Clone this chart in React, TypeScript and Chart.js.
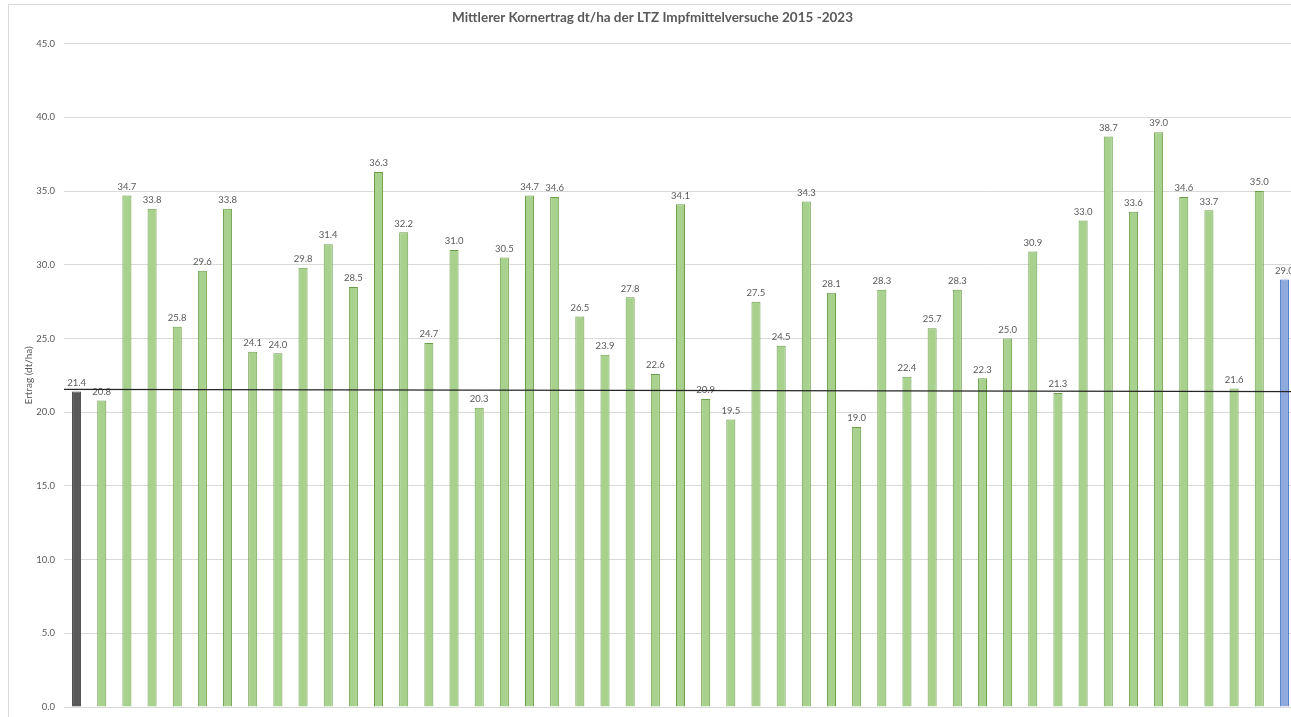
import React, { useEffect, useRef } from "react";
import { Chart, registerables } from "chart.js";

Chart.register(...registerables);

const titleText = "Mittlerer Kornertrag dt/ha der LTZ Impfmittelversuche 2015 -2023";
const yAxisTitle = "Ertrag (dt/ha)";

// Mean grain yield per variant (dt/ha); first = untreated control, last = overall mean
const categories: string[] = [
  "Kontrolle",
  "V1", "V2", "V3", "V4", "V5", "V6", "V7", "V8", "V9", "V10",
  "V11", "V12", "V13", "V14", "V15", "V16", "V17", "V18", "V19", "V20",
  "V21", "V22", "V23", "V24", "V25", "V26", "V27", "V28", "V29", "V30",
  "V31", "V32", "V33", "V34", "V35", "V36", "V37", "V38", "V39", "V40",
  "V41", "V42", "V43", "V44", "V45", "V46", "V47",
  "Mittel",
];

const yields: number[] = [
  21.4,
  20.8, 34.7, 33.8, 25.8, 29.6, 33.8, 24.1, 24.0, 29.8, 31.4,
  28.5, 36.3, 32.2, 24.7, 31.0, 20.3, 30.5, 34.7, 34.6, 26.5,
  23.9, 27.8, 22.6, 34.1, 20.9, 19.5, 27.5, 24.5, 34.3, 28.1,
  19.0, 28.3, 22.4, 25.7, 28.3, 22.3, 25.0, 30.9, 21.3, 33.0,
  38.7, 33.6, 39.0, 34.6, 33.7, 21.6, 35.0,
  29.0,
];

// Reference line at control level (drawn slightly sloped, left → right)
const referenceLine: number[] = [21.55, 21.4];

const yTicks = { min: 0, max: 45, step: 5 };

const greenFill = "#a9d18e";
const greenBorder = "#6b9f47";
const controlFill = "#595959";
const controlBorder = "#404040";
const meanFill = "#8faadc";
const meanBorder = "#4472c4";

const fillColors = yields.map((_, i) =>
  i === 0 ? controlFill : i === yields.length - 1 ? meanFill : greenFill
);
const borderColors = yields.map((_, i) =>
  i === 0 ? controlBorder : i === yields.length - 1 ? meanBorder : greenBorder
);

const FONT = "Lato, 'Open Sans', sans-serif";
const TEXT = "#595959";

const frameBorder = {
  id: "frameBorder",
  beforeDraw(chart: any) {
    const { ctx, width, height } = chart;
    ctx.save();
    ctx.fillStyle = "#ffffff";
    ctx.fillRect(0, 0, width, height);
    ctx.strokeStyle = "#d9d9d9";
    ctx.lineWidth = 1;
    ctx.strokeRect(0.5, 0.5, width - 1, height - 1);
    ctx.restore();
  },
};

const valueLabels = {
  id: "valueLabels",
  afterDatasetsDraw(chart: any) {
    const { ctx } = chart;
    const meta = chart.getDatasetMeta(0);
    const data = chart.data.datasets[0].data as number[];
    ctx.save();
    ctx.font = `9.5px ${FONT}`;
    ctx.fillStyle = TEXT;
    ctx.textAlign = "center";
    ctx.textBaseline = "bottom";
    meta.data.forEach((el: any, i: number) => {
      ctx.fillText(data[i].toFixed(1), el.x, el.y - 4);
    });
    ctx.restore();
  },
};

const controlLine = {
  id: "controlLine",
  afterDatasetsDraw(chart: any) {
    const { ctx, chartArea, scales } = chart;
    const y0 = scales.y.getPixelForValue(referenceLine[0]);
    const y1 = scales.y.getPixelForValue(referenceLine[1]);
    ctx.save();
    ctx.strokeStyle = "#262626";
    ctx.lineWidth = 1.2;
    ctx.beginPath();
    ctx.moveTo(chartArea.left, y0);
    ctx.lineTo(chartArea.right + 20, y1);
    ctx.stroke();
    ctx.restore();
  },
};

export default function App() {
  const canvasRef = useRef<HTMLCanvasElement | null>(null);

  useEffect(() => {
    if (!canvasRef.current) return;
    const chart = new Chart(canvasRef.current, {
      type: "bar",
      data: {
        labels: categories,
        datasets: [
          {
            data: yields,
            backgroundColor: fillColors,
            borderColor: borderColors,
            borderWidth: 1,
            barPercentage: 0.36,
            categoryPercentage: 1,
          },
        ],
      },
      options: {
        animation: false,
        responsive: false,
        devicePixelRatio: 1,
        layout: { padding: { left: 0, right: 11, top: 0, bottom: 57 } },
        plugins: {
          legend: { display: false },
          tooltip: { enabled: false },
          title: {
            display: true,
            text: titleText,
            color: TEXT,
            font: { family: FONT, size: 13.5, weight: "bold", lineHeight: 1.2 },
            padding: { top: 6, bottom: 17.5 },
          },
        },
        scales: {
          x: { display: false },
          y: {
            min: yTicks.min,
            max: yTicks.max,
            border: { display: false },
            grid: { color: "#d9d9d9", drawTicks: false, lineWidth: 1 },
            ticks: {
              stepSize: yTicks.step,
              padding: 9,
              color: TEXT,
              font: { family: FONT, size: 9.5 },
              callback: (v: any) => Number(v).toFixed(1),
            },
            title: {
              display: true,
              text: yAxisTitle,
              color: TEXT,
              font: { family: FONT, size: 10 },
              padding: { top: 15, bottom: 0 },
            },
            afterFit(scale: any) {
              scale.width = 56;
            },
          },
        },
      },
      plugins: [frameBorder, valueLabels, controlLine],
    });
    return () => chart.destroy();
  }, []);

  return (
    <div
      style={{
        position: "fixed",
        left: 0,
        top: 0,
        width: "100vw",
        height: "100vh",
        overflow: "hidden",
        background: "#ffffff",
      }}
    >
      <canvas
        ref={canvasRef}
        width={1300}
        height={760}
        style={{ position: "absolute", left: 8, top: 4, display: "block" }}
      />
    </div>
  );
}
